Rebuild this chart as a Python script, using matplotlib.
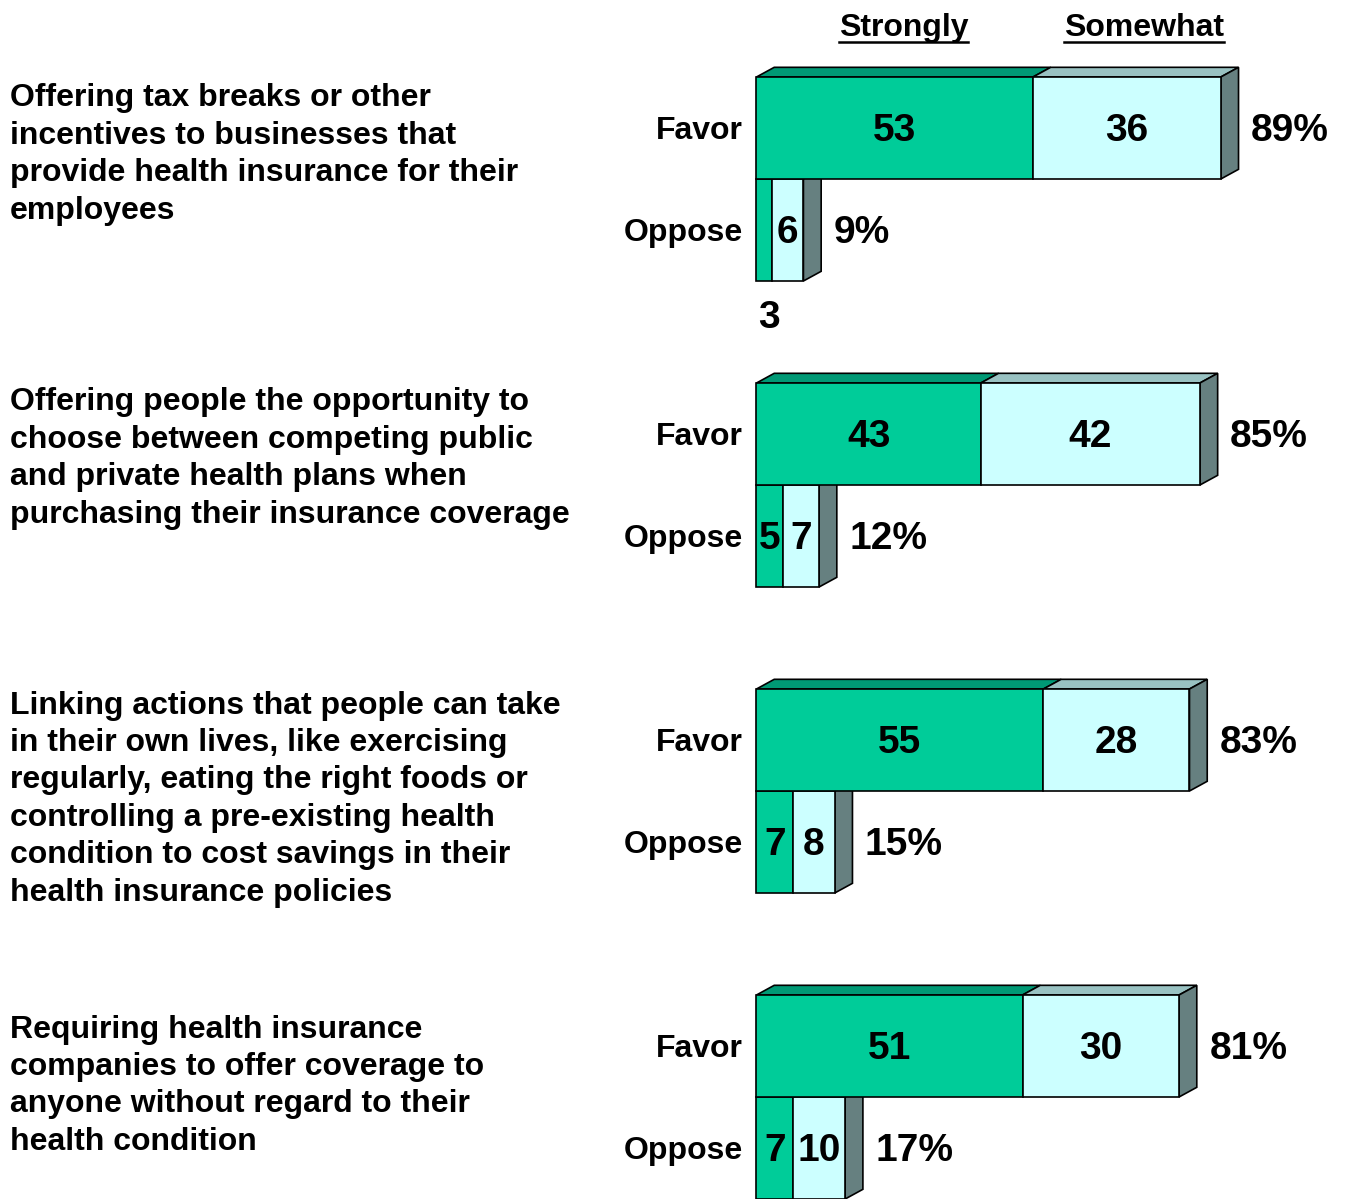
import matplotlib
matplotlib.use("Agg")
import matplotlib.pyplot as plt
from matplotlib.patches import Polygon
from matplotlib.lines import Line2D

plt.rcParams['font.family'] = ['Liberation Sans', 'DejaVu Sans']
plt.rcParams['font.weight'] = 'bold'

categories = [
    "Offering tax breaks or other\nincentives to businesses that\nprovide health insurance for their\nemployees",
    "Offering people the opportunity to\nchoose between competing public\nand private health plans when\npurchasing their insurance coverage",
    "Linking actions that people can take\nin their own lives, like exercising\nregularly, eating the right foods or\ncontrolling a pre-existing health\ncondition to cost savings in their\nhealth insurance policies",
    "Requiring health insurance\ncompanies to offer coverage to\nanyone without regard to their\nhealth condition",
]
strongly_favor = [53, 43, 55, 51]
somewhat_favor = [36, 42, 28, 30]
total_favor = [89, 85, 83, 81]
strongly_oppose = [3, 5, 7, 7]
somewhat_oppose = [6, 7, 8, 10]
total_oppose = [9, 12, 15, 17]
headers = ["Strongly", "Somewhat"]

# colours
C_STRONG = "#00CC99"
C_STRONG_TOP = "#009975"
C_SOME = "#CCFFFF"
C_SOME_TOP = "#99C2C2"
C_SIDE = "#668080"

# 3d depth (in data units)
DX = 3.4
DY = 0.095
LW = 1.2

fig = plt.figure(figsize=(13.46, 11.99), dpi=100)
ax = fig.add_axes([0, 0, 1, 1])
ax.set_xlim(-145, 113)
ax.set_ylim(11.0, -0.755)
ax.axis('off')


def face(pts, color, z):
    ax.add_patch(Polygon(pts, closed=True, facecolor=color, edgecolor='black',
                         linewidth=LW, zorder=z, joinstyle='miter'))


def bar3d(y, h, parts, colors, tops, z, top=True):
    x0 = 0
    for w, c, tc in zip(parts, colors, tops):
        x1 = x0 + w
        if top:
            face([(x0, y), (x1, y), (x1 + DX, y - DY), (x0 + DX, y - DY)], tc, z)
        face([(x0, y), (x1, y), (x1, y + h), (x0, y + h)], c, z + 0.1)
        x0 = x1
    face([(x0, y), (x0 + DX, y - DY), (x0 + DX, y + h - DY), (x0, y + h)], C_SIDE, z)
    return x0


VAL_FS = 28
LAB_FS = 23
GAP = 2.4
MID = 0.53
cat_y = [0.76, 3.74, 7.08, 9.89]

for i in range(len(categories)):
    yf = 3 * i
    yo = 3 * i + 1
    # oppose first so favor covers its hidden part
    end_o = bar3d(yo, 1, [strongly_oppose[i], somewhat_oppose[i]],
                  [C_STRONG, C_SOME], [C_STRONG_TOP, C_SOME_TOP], 2, top=False)
    end_f = bar3d(yf, 1, [strongly_favor[i], somewhat_favor[i]],
                  [C_STRONG, C_SOME], [C_STRONG_TOP, C_SOME_TOP], 4)

    ax.text(strongly_favor[i] / 2, yf + MID, str(strongly_favor[i]), ha='center', va='center',
            fontsize=VAL_FS, zorder=6)
    ax.text(strongly_favor[i] + somewhat_favor[i] / 2, yf + MID, str(somewhat_favor[i]),
            ha='center', va='center', fontsize=VAL_FS, zorder=6)
    ax.text(end_f + DX + GAP, yf + MID, f"{total_favor[i]}%", ha='left', va='center',
            fontsize=VAL_FS, zorder=6)

    if strongly_oppose[i] < 4:
        ax.text(strongly_oppose[i] / 2 + 0.8, yo + 1.36, str(strongly_oppose[i]), ha='center',
                va='center', fontsize=VAL_FS, zorder=6)
    else:
        ax.text(strongly_oppose[i] / 2, yo + MID, str(strongly_oppose[i]), ha='center',
                va='center', fontsize=VAL_FS, zorder=6)
    ax.text(strongly_oppose[i] + somewhat_oppose[i] / 2, yo + MID, str(somewhat_oppose[i]),
            ha='center', va='center', fontsize=VAL_FS, zorder=6)
    ax.text(end_o + DX + GAP, yo + MID, f"{total_oppose[i]}%", ha='left', va='center',
            fontsize=VAL_FS, zorder=6)

    ax.text(-2.6, yf + MID, "Favor", ha='right', va='center', fontsize=LAB_FS)
    ax.text(-2.6, yo + MID, "Oppose", ha='right', va='center', fontsize=LAB_FS)

    ax.text(-143.1, cat_y[i], categories[i], ha='left', va='center', fontsize=LAB_FS,
            linespacing=1.32)

head_txt = []
for hx, h in zip([28.2, 74.3], headers):
    head_txt.append(ax.text(hx, -0.48, h, ha='center', va='center', fontsize=LAB_FS))

# underline the headers
fig.canvas.draw()
r = fig.canvas.get_renderer()
W, H = fig.bbox.width, fig.bbox.height
for t in head_txt:
    bb = t.get_window_extent(r)
    yline = (bb.y0 + 1) / H
    fig.add_artist(Line2D([bb.x0 / W, bb.x1 / W], [yline, yline], color='black', lw=1.8))

fig.savefig("out.png", dpi=100)
